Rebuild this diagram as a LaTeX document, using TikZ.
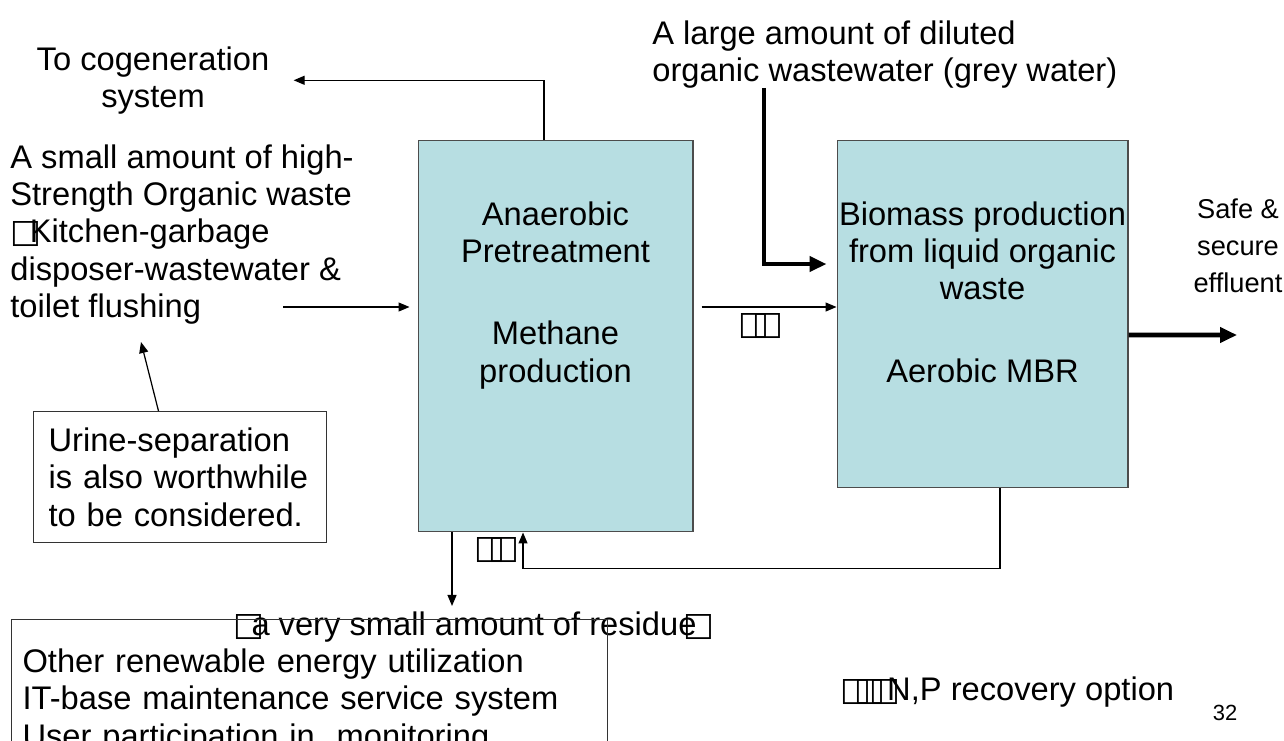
\documentclass[tikz,border=0pt]{standalone}
\usepackage{fontspec}
\setmainfont{Liberation Sans}
\newfontfamily\tofufont{DejaVu Sans}
\usepackage{xcolor}
\usetikzlibrary{arrows.meta,positioning,calc}
\definecolor{tankblue}{RGB}{183,222,226}
\newcommand{\tofu}{{\tofufont □}}

\begin{document}
\begin{tikzpicture}[x=0.02cm, y=-0.02cm,
  font=\fontsize{18.6}{21.3}\selectfont,
  tank/.style={draw=black!70, line width=0.6pt, fill=tankblue, inner sep=0pt},
  txt/.style={inner sep=0pt},
  note/.style={draw=black!80, line width=0.6pt, align=left, anchor=north west},
  arr/.style={line width=0.7pt, -{Triangle[length=2.2mm, width=1.8mm]}},
  fat/.style={line width=2.8pt, -{Triangle[length=3.4mm, width=3mm]}},
]
\useasboundingbox (0,0) rectangle (1284,740);

% the two reactors
\node[tank, minimum width=5.5cm, minimum height=7.84cm] (anaer) at (555.5,336) {};
\node[tank, minimum width=5.82cm, minimum height=6.96cm] (bio) at (982.5,314) {};
\node[txt, align=center, anchor=north] (anaertxt) at (555.5,201)
  {Anaerobic\\Pretreatment\\[0.9cm]Methane\\production};
\node[txt, align=center, anchor=north] (biotxt) at (982.5,201)
  {Biomass production\\from liquid organic\\waste\\[0.9cm]Aerobic MBR};

% texts round them
\node[txt, align=center, anchor=north] (cogen) at (153,46) {To cogeneration\\system};
\node[txt, align=left, anchor=north west] (waste) at (10,144)
  {A small amount of high-\\Strength Organic waste\\\tofu\kern-0.35em Kitchen-garbage\\disposer-wastewater \&\\toilet flushing};
\node[note, inner xsep=0.3cm, inner ysep=0.32cm, text width=5.26cm] (urine) at (33,411)
  {Urine-separation\\is also worthwhile\\to be considered.};
\node[txt, align=left, anchor=north west] (grey) at (652,20)
  {A large amount of diluted\\organic wastewater (grey water)};
\node[txt, align=center, anchor=north, font=\fontsize{15.5}{21.3}\selectfont] (safe) at (1238,198)
  {Safe \&\\secure\\effluent};
\node[txt, anchor=base] (resid) at (474,635)
  {\tofu\kern-0.4em a very small amount of residue\kern-0.4em\tofu};
\node[note, inner xsep=0.22cm, inner ysep=0.58cm, text width=11.48cm] (other) at (11,619)
  {Other renewable energy utilization\\IT-base maintenance service system\\User participation in\ \ monitoring};
\node[txt, anchor=base west] (npr) at (840,700)
  {\tofu\kern-0.5em\tofu\kern-0.5em\tofu\kern-0.4em N,P recovery option};
\node[txt, font=\fontsize{12.5}{15}\selectfont] (page) at (1225,713) {32};
\node[txt] (mark1) at (761,326) {\tofu\kern-0.5em\tofu};
\node[txt] (mark2) at (497,550) {\tofu\kern-0.5em\tofu};

% free ends
\coordinate (hs) at (283,307);
\coordinate (gw) at (764,88);
\coordinate (eff) at (1237,335);
\coordinate (tf) at (141,342);

% flows
\draw[arr] ([xshift=-0.23cm]anaer.north) |- ([xshift=0.48cm]cogen.east);
\draw[arr, shorten >=0.16cm] (hs) -- (hs -| anaer.west);
\draw[arr, shorten <=0.16cm] ([yshift=0.58cm]anaer.east) -- ([yshift=0.58cm]anaer.east -| bio.west);
\draw[fat, shorten >=0.2cm] (gw) |- ([yshift=1.0cm]bio.west);
\draw[fat] ([yshift=-0.42cm]bio.east) -- (eff);
\draw[arr] ([xshift=0.35cm]bio.south) -- ++(0,80) -| ([xshift=-0.65cm]anaer.south);
\draw[arr, shorten >=0.1cm] ([xshift=-2.07cm]anaer.south) -- ([xshift=-2.07cm]anaer.south |- resid.north);
\draw[arr] ([xshift=-0.43cm]urine.north) -- (tf);
\end{tikzpicture}
\end{document}
